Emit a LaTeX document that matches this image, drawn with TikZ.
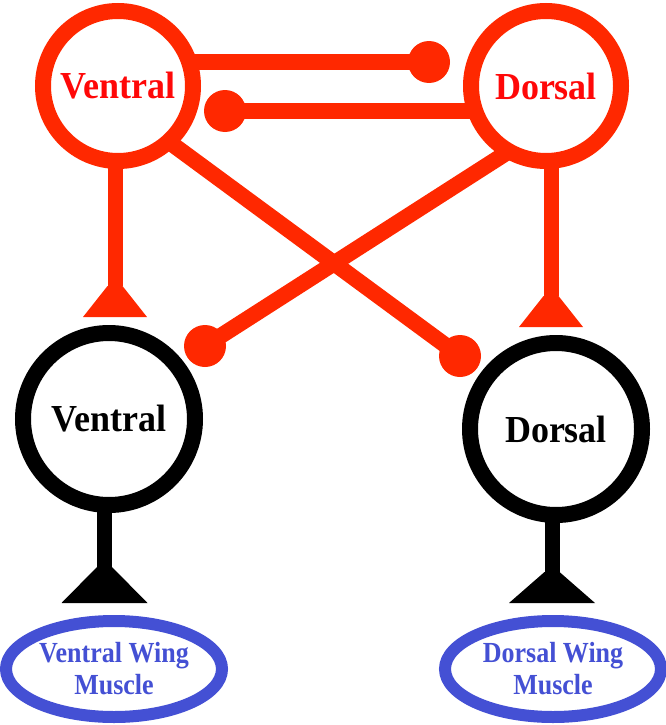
\documentclass[tikz,border=0pt]{standalone}
\usepackage{fontspec}
\setmainfont{Liberation Serif}
\usetikzlibrary{shapes.geometric,calc}
\pgfdeclarelayer{wires}
\pgfsetlayers{wires,main}
\definecolor{nred}{RGB}{255,40,0}
\definecolor{tred}{RGB}{255,8,8}
\definecolor{mblue}{RGB}{68,80,212}

% synaptic foot: a stem end that widens into a flat-based triangle
\newcommand\synfoot[4]{%
  \fill[#2] ($(#1)+(-7.5,0)$) -- ($(#1)+(7.5,0)$) -- ($(#1)+(#3,#4)$) -- ($(#1)+(-#3,#4)$) -- cycle;}
% slightly tall lettering
\newcommand\tallword[2]{\raisebox{-3pt}{\scalebox{1}[#1]{#2}}}

\tikzset{
  neuron/.style={circle, line width=16pt, fill=white, inner sep=0pt,
    font=\bfseries\fontsize{36}{40}\selectfont},
  inter/.style={neuron, draw=nred, text=tred, minimum size=150pt},
  motor/.style={neuron, draw=black, text=black, minimum size=172pt},
  muscle/.style={ellipse, draw=mblue, text=mblue, line width=12pt, fill=white,
    minimum width=216pt, minimum height=96pt, inner sep=0pt, align=center,
    font=\bfseries\fontsize{26}{32}\selectfont},
  redwire/.style={draw=nred, line width=16pt},
  redstem/.style={draw=nred, line width=15pt},
  blackstem/.style={draw=black, line width=15pt},
}

\begin{document}
\begin{tikzpicture}[x=1pt,y=-1pt]
\useasboundingbox (0,0) rectangle (666,725);

% interneurons
\node[inter] (RV) at (118,86) {\tallword{1.06}{Ventral}};
\node[inter] (RD) at (546,86) {\tallword{1.06}{Dorsal}};
% motor neurons
\node[motor] (BV) at (109,419) {\tallword{1.06}{Ventral}};
\node[motor] (BD) at (556,429) {\tallword{1.06}{Dorsal}};
% muscles
\node[muscle] (MV) at (114,669) {\scalebox{1}[1.12]{Ventral Wing}\\\scalebox{1}[1.12]{Muscle}};
\node[muscle] (MD) at (553,669) {\scalebox{1}[1.12]{Dorsal Wing}\\\scalebox{1}[1.12]{Muscle}};

% connector ends
\coordinate (iA) at (429,62);
\coordinate (iB) at (225,111);
\coordinate (iC) at (460,356);
\coordinate (iD) at (205,346);
\coordinate (eV) at (115,286);
\coordinate (eD) at (551,296);
\coordinate (mV) at (104.5,567);
\coordinate (mD) at (552,572);

\begin{pgfonlayer}{wires}
  % mutual inhibition between the interneurons
  \draw[redwire] (RV.center |- iA) -- (iA);
  \fill[nred] (iA) circle (21pt);
  \draw[redwire] (RD.center |- iB) -- (iB);
  \fill[nred] (iB) circle (21pt);
  % crossed inhibition onto the motor neurons
  \draw[redwire] ($(RV.center)+(20,33)$) -- (iC);
  \fill[nred] (iC) circle (21pt);
  \draw[redwire] ($(RD.center)+(-21,55)$) -- (iD);
  \fill[nred] (iD) circle (21pt);
  % excitation onto the motor neurons
  \draw[redstem] (eV |- RV.center) -- (eV);
  \synfoot{eV}{nred}{32}{31}
  \draw[redstem] (eD |- RD.center) -- (eD);
  \synfoot{eD}{nred}{32}{31}
  % motor outputs onto the muscles
  \draw[blackstem] (mV |- BV.center) -- (mV);
  \synfoot{mV}{black}{43}{36}
  \draw[blackstem] (mD |- BD.center) -- (mD);
  \synfoot{mD}{black}{43}{31}
\end{pgfonlayer}
\end{tikzpicture}
\end{document}
